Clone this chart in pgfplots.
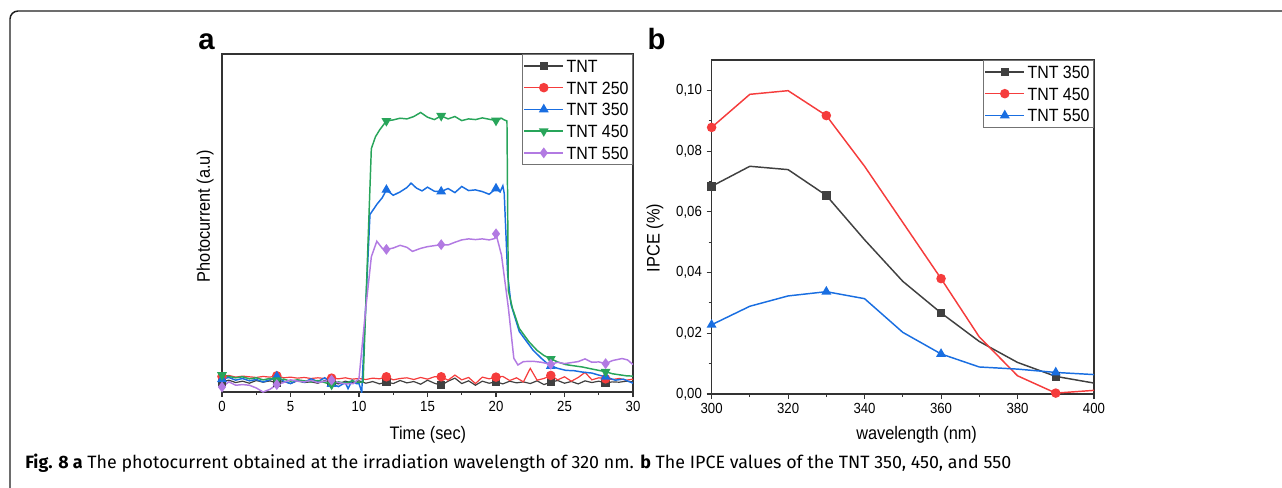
\documentclass[border=0pt]{standalone}
\usepackage{pgfplots}
\pgfplotsset{compat=1.18}
\usepackage{fontspec}
\setmainfont{Liberation Sans}[FakeStretch=0.9]
\newfontfamily\capfont{Fira Sans}
\newfontfamily\lblfont{Liberation Sans}

\definecolor{cblk}{RGB}{64,64,64}
\definecolor{cred}{RGB}{245,60,60}
\definecolor{cblu}{RGB}{25,110,225}
\definecolor{cgrn}{RGB}{40,165,90}
\definecolor{cpur}{RGB}{178,122,226}
\definecolor{frm}{RGB}{30,30,30}

\pgfplotsset{
 common/.style={
  scale only axis,
  axis line style={line width=1pt, color=black!80},
  tick style={line width=0.8pt, color=black!80},
  tick align=outside,
  tick pos=left,
  major tick length=3.75pt,
  minor tick length=2.25pt,
  tick label style={font=\fontsize{11}{13}\selectfont},
  label style={font=\fontsize{13.6}{15}\selectfont},
  /pgf/number format/assume math mode=true,
  legend style={draw=black!55, line width=0.6pt, font=\fontsize{13.3}{15}\selectfont,
    inner xsep=1pt, inner ysep=0.5pt, row sep=0pt,
    nodes={inner xsep=2pt, inner ysep=3.3pt, text height=9.7pt, text depth=0pt},
    cells={anchor=west}, at={(1,1)}, anchor=north east},
  legend cell align=left,
  legend image code/.code={\draw[mark repeat=2,mark phase=2] plot coordinates {(0pt,0pt)(14.5pt,0pt)(29pt,0pt)};},
  every axis plot/.append style={line width=1.1pt, mark size=3pt, mark options={solid}},
 },
}

\begin{document}
\begin{tikzpicture}
\path[use as bounding box] (0,0) rectangle (961.5pt,365.25pt);
\draw[frm, line width=1.1pt, rounded corners=6pt] (7.5pt,-5pt) -- (7.5pt,357pt) -- (970pt,357pt);

\node[font=\lblfont\bfseries\fontsize{22}{24}\selectfont, anchor=base] at (154.9pt,328.5pt) {a};
\node[font=\lblfont\bfseries\fontsize{22}{24}\selectfont, anchor=base] at (492.4pt,328.5pt) {b};

\node[font=\capfont\fontsize{13.4}{15}\selectfont, anchor=base west, inner sep=0pt] at (18.75pt,14.25pt)
 {{\bfseries Fig. 8 a} The photocurrent obtained at the irradiation wavelength of 320 nm. {\bfseries b} The IPCE values of the TNT 350, 450, and 550};

% ---------------- panel a ----------------
\begin{axis}[common,
  at={(166.5pt,71.25pt)}, anchor=south west,
  width=308.25pt, height=253.5pt,
  xmin=0, xmax=30, ymin=0, ymax=100,
  xtick={0,5,...,30}, minor x tick num=1,
  ytick=\empty,
  xlabel={Time (sec)}, ylabel={Photocurrent (a.u)},
  xlabel style={at={(axis description cs:0.501,-0.127)}, anchor=center},
  ylabel style={at={(axis description cs:-0.041,0.52)}, anchor=center},
]
\addlegendimage{cblk, line width=1.1pt, mark=square*, mark size=2.6pt}
\addlegendentry{TNT}
\addlegendimage{cred, line width=1.1pt, mark=*, mark size=3pt}
\addlegendentry{TNT 250}
\addlegendimage{cblu, line width=1.1pt, mark=triangle*, mark size=3.2pt}
\addlegendentry{TNT 350}
\addlegendimage{cgrn, line width=1.1pt, mark=triangle*, mark size=3.2pt, mark options={rotate=180}}
\addlegendentry{TNT 450}
\addlegendimage{cpur, line width=1.1pt, mark=diamond*, mark size=3.2pt}
\addlegendentry{TNT 550}

% TNT
\addplot[cblk, line width=0.9pt, forget plot] coordinates {
(0,3.0)(0.5,3.5)(1,2.8)(1.5,3.2)(2,2.6)(2.5,3.4)(3,2.9)(3.5,3.3)(4,2.7)(4.5,3.1)
(5,2.5)(5.5,3.3)(6,2.8)(6.5,3.0)(7,2.6)(7.5,3.4)(8,2.9)(8.5,2.4)(9,3.2)(9.5,2.7)
(10,3.3)(10.5,2.6)(11,3.1)(11.5,2.4)(12,3.0)(12.5,2.5)(13,3.4)(13.5,2.7)(14,3.1)(14.5,2.3)
(15,3.5)(15.5,2.6)(16,2.0)(16.5,3.2)(17,4.1)(17.5,2.5)(18,3.3)(18.5,2.0)(19,3.2)(19.5,2.6)
(20,3.0)(20.5,2.4)(21,3.2)(21.5,2.7)(22,3.0)(22.5,2.5)(23,3.3)(23.5,2.2)(24,2.9)(24.5,3.4)
(25,2.6)(25.5,3.1)(26,2.4)(26.5,3.3)(27,2.8)(27.5,3.2)(28,2.7)(28.5,3.0)(29,2.9)(29.5,3.2)(30,3.0)};
\addplot[cblk, only marks, mark=square*, mark size=2.6pt, forget plot] coordinates {
(0,3.0)(4,2.7)(8,2.9)(12,3.0)(16,2.0)(20,3.0)(24,2.9)(28,2.7)};

% TNT 250
\addplot[cred, line width=0.9pt, forget plot] coordinates {
(0,4.6)(0.5,4.9)(1,4.4)(1.5,4.7)(2,4.5)(2.5,4.3)(3,4.6)(3.5,4.4)(4,4.8)(4.5,4.2)
(5,4.4)(5.5,4.1)(6,4.3)(6.5,4.0)(7,4.2)(7.5,4.0)(8,4.1)(8.5,3.9)(9,4.2)(9.5,3.8)
(10,4.0)(10.5,3.7)(11,4.1)(11.5,3.9)(12,4.5)(12.5,3.6)(13,4.0)(13.5,4.2)(14,3.7)(14.5,4.3)
(15,3.8)(15.5,4.5)(16,4.5)(16.5,3.5)(17,5.0)(17.5,3.6)(18,4.3)(18.5,2.5)(19,4.4)(19.5,3.9)
(20,4.4)(20.5,4.6)(21,3.4)(21.5,4.2)(22,3.0)(22.5,7.0)(23,3.5)(23.5,4.0)(24,4.9)(24.5,3.6)
(25,4.5)(25.5,3.2)(26,4.3)(26.5,5.8)(27,3.6)(27.5,4.2)(28,3.9)(28.5,3.7)(29,4.0)(29.5,3.5)(30,3.8)};
\addplot[cred, only marks, mark=*, mark size=3pt, forget plot] coordinates {
(0,4.6)(4,4.8)(8,4.1)(12,4.5)(16,4.5)(20,4.4)(24,4.9)(28,3.9)};

% TNT 350
\addplot[cblu, forget plot] coordinates {
(0,3.8)(0.5,4.3)(1,3.5)(1.5,4.0)(2,3.3)(2.5,3.7)(3,3.0)(3.5,3.6)(4,4.6)(4.5,3.2)
(5,2.5)(5.5,3.5)(6,2.9)(6.5,3.9)(7,3.1)(7.5,4.2)(8,2.4)(8.5,1.6)(9,2.8)(9.2,1.0)
(9.5,3.5)(9.8,2.5)(10,2.5)(10.2,0.0)(10.8,52.5)(11.3,55.5)(11.7,57.5)(12,59.8)(12.5,58.2)(13,59.2)
(13.5,60.5)(13.8,61.8)(14.2,60.3)(14.6,59.5)(15,60.6)(15.5,59.4)(16,59.3)(16.5,60.2)(17,59.0)(17.5,60.8)
(18,59.6)(18.5,59.8)(19,59.3)(19.5,58.5)(20,60.2)(20.3,59.2)(20.5,61.0)(20.6,58.8)(20.85,34.7)(21.1,25.8)
(21.7,17.9)(22.7,12.4)(23.3,10.0)(23.9,7.9)(24.5,7.0)(25.1,6.4)(25.7,6.3)(26.3,5.9)(27,5.6)(27.5,5.0)
(28,4.5)(28.7,3.5)(29.3,3.8)(30,2.6)};
\addplot[cblu, only marks, mark=triangle*, mark size=3.2pt, forget plot] coordinates {
(0,3.8)(4,4.6)(8,2.4)(12,59.8)(16,59.3)(20,60.2)(24,7.7)(28,4.5)};

% TNT 450
\addplot[cgrn, forget plot] coordinates {
(0,5.0)(0.5,4.6)(1,4.2)(1.5,4.5)(2,3.9)(2.5,4.2)(3,3.6)(3.5,4.0)(4,3.5)(4.5,3.8)
(5,3.2)(5.5,3.6)(6,3.3)(6.5,3.0)(7,3.4)(7.5,2.8)(8,2.2)(8.5,3.0)(9,2.6)(9.5,3.3)
(10,2.8)(10.3,3.0)(10.9,72)(11.2,75.5)(11.5,77.5)(12,80.2)(12.5,80.5)(13,81)(13.5,80.8)(14,81.5)
(14.5,82.7)(15,81.3)(15.5,80.6)(16,81.7)(16.5,80.8)(17,81.5)(17.5,80.3)(18,80.8)(18.5,80.6)(19,81.1)
(19.5,80.7)(20,80.3)(20.4,81.0)(20.6,80.5)(20.8,80.2)(20.9,30)(21.2,24.8)(21.7,18.8)(22.4,14.9)(23,12.3)
(23.5,10.8)(24,9.8)(24.5,8.9)(25.1,8.1)(25.6,7.8)(26.3,7.4)(27,6.8)(27.5,6.4)(28,6.0)(28.5,5.4)
(29,5.1)(29.5,4.8)(30,4.7)};
\addplot[cgrn, only marks, mark=triangle*, mark size=3.2pt, mark options={rotate=180}, forget plot] coordinates {
(0,5.0)(4,3.5)(8,2.2)(12,80.2)(16,81.7)(20,80.3)(24,9.8)(28,6.0)};

% TNT 550
\addplot[cpur, forget plot] coordinates {
(0,1.5)(0.5,3.0)(1,2.0)(1.5,2.2)(2,2.0)(2.5,1.2)(3,0.0)(3.5,0.8)(4,2.2)(4.5,2.8)
(5,3.6)(5.5,3.2)(6,3.0)(6.5,3.4)(7,2.8)(7.5,3.2)(8,3.5)(8.5,2.8)(9,2.4)(9.6,2.5)
(10,4.0)(10.5,25)(10.9,40)(11.3,44.6)(11.7,42.5)(12,42.2)(12.5,42.6)(13,43.4)(13.5,42.8)(13.9,41.6)
(14.5,42.5)(15,43.0)(15.5,43.3)(16,43.6)(16.5,43.5)(17,44.3)(17.5,45.0)(18,45.3)(18.5,45.1)(19,45.3)
(19.5,45.0)(19.9,45.4)(20,46.8)(20.4,40.5)(20.9,25)(21.3,10)(21.6,8.0)(22,9.0)(22.7,9.1)(23.3,8.8)
(24,8.2)(24.5,8.8)(25,8.4)(25.5,8.7)(26,9.0)(26.5,9.8)(27,8.8)(27.5,8.9)(28,8.4)(28.5,9.3)
(29.2,9.9)(29.6,9.5)(30,8.1)};
\addplot[cpur, only marks, mark=diamond*, mark size=3.2pt, forget plot] coordinates {
(0,1.5)(4,2.2)(8,3.5)(12,42.2)(16,43.6)(20,46.8)(24,8.2)(28,8.4)};
\end{axis}

% ---------------- panel b ----------------
\begin{axis}[common,
  at={(533.7pt,69.75pt)}, anchor=south west,
  width=286.8pt, height=250.5pt,
  xmin=300, xmax=400, ymin=0, ymax=0.11,
  xtick={300,320,...,400}, minor x tick num=1,
  ytick={0,0.02,0.04,0.06,0.08,0.10}, minor y tick num=1,
  scaled y ticks=false,
  yticklabel style={/pgf/number format/.cd, fixed, fixed zerofill, precision=2, use comma},
  xlabel={wavelength (nm)}, ylabel={IPCE (\%)},
  xlabel style={at={(axis description cs:0.536,-0.123)}, anchor=center},
  ylabel style={at={(axis description cs:-0.148,0.467)}, anchor=center},
]
\addplot[cblk, mark=square*, mark size=2.6pt, mark repeat=3] coordinates {
(300,0.0684)(310,0.0750)(320,0.0739)(330,0.0654)(340,0.0508)(350,0.0371)(360,0.0267)(370,0.0173)(380,0.0104)(390,0.0058)(400,0.0036)};
\addlegendentry{TNT 350}
\addplot[cred, mark=*, mark size=3pt, mark repeat=3] coordinates {
(300,0.0878)(310,0.0987)(320,0.0999)(330,0.0917)(340,0.0750)(350,0.0565)(360,0.0380)(370,0.0188)(380,0.0060)(390,0.0003)(400,0.0012)};
\addlegendentry{TNT 450}
\addplot[cblu, mark=triangle*, mark size=3.2pt, mark repeat=3] coordinates {
(300,0.0228)(310,0.0289)(320,0.0323)(330,0.0337)(340,0.0314)(350,0.0203)(360,0.0132)(370,0.0089)(380,0.0082)(390,0.0071)(400,0.0064)};
\addlegendentry{TNT 550}
\end{axis}
\end{tikzpicture}
\end{document}
